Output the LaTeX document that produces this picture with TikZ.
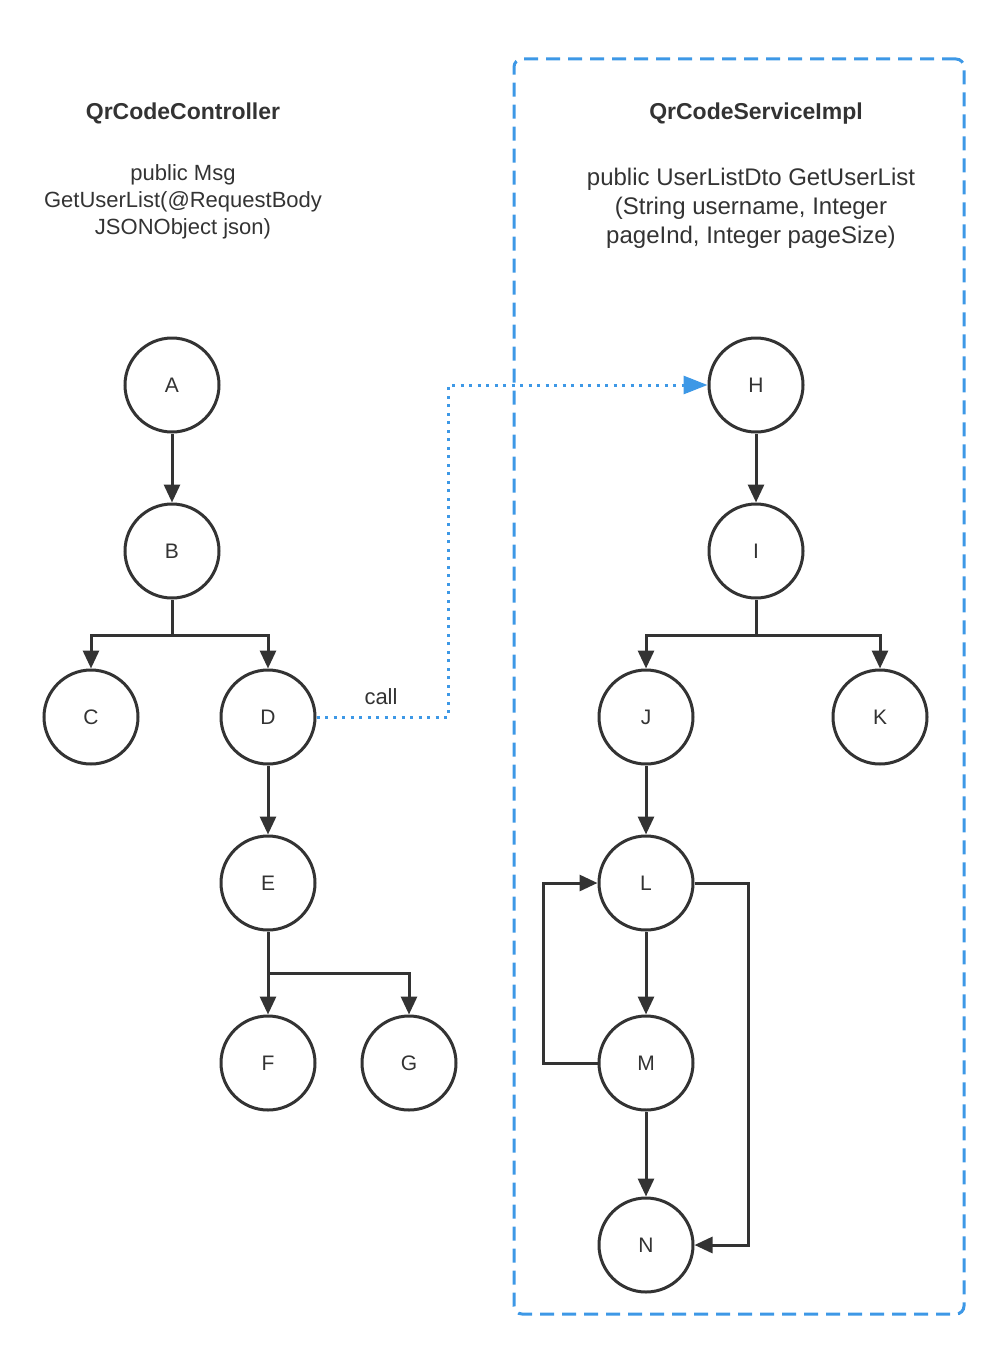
\documentclass[tikz,border=0pt]{standalone}
\usepackage{fontspec}
\setmainfont{Liberation Sans}
\usetikzlibrary{arrows.meta}
\definecolor{ink}{HTML}{333333}
\definecolor{accent}{HTML}{3D98E6}
\begin{document}
\begin{tikzpicture}[x=1pt,y=-1pt,
  state/.style={circle,draw=ink,line width=3pt,minimum size=94pt,inner sep=0pt,
    font=\fontsize{21}{24}\selectfont,text=ink},
  flow/.style={draw=ink,line width=3pt,line join=miter,-{Triangle[length=18pt,width=16pt]}},
  callflow/.style={draw=accent,line width=3pt,dash pattern=on 3pt off 5.5pt,
    -{Triangle[length=24pt,width=18pt]}},
  title/.style={font=\fontsize{23}{26}\selectfont\bfseries,text=ink},
  sig/.style={font=\fontsize{22}{27}\selectfont,text=ink,align=center},
  sigwide/.style={font=\fontsize{24}{29}\selectfont,text=ink,align=center},
  frame/.style={draw=accent,line width=3pt,dash pattern=on 14pt off 8pt,rounded corners=8pt}
]
\useasboundingbox (0,0) rectangle (998,1346);

% service frame
\node[frame,minimum width=450pt,minimum height=1255pt,inner sep=0pt] (svc) at (739,686.5) {};

% headings
\node[title] (ctrlT) at (183,113) {QrCodeController};
\node[sig] (ctrlS) at (183,201.5) {public Msg\\GetUserList(@RequestBody\\JSONObject json)};
\node[title] (svcT) at (756,114) {QrCodeServiceImpl};
\node[sigwide] (svcS) at (751,208) {public UserListDto GetUserList\\(String username, Integer\\pageInd, Integer pageSize)};

% controller nodes
\node[state] (A) at (172,385) {A};
\node[state] (B) at (172,551) {B};
\node[state] (C) at (91,717) {C};
\node[state] (D) at (268,717) {D};
\node[state] (E) at (268,883) {E};
\node[state] (F) at (268,1063) {F};
\node[state] (G) at (409,1063) {G};

% service nodes
\node[state] (H) at (756,385) {H};
\node[state] (I) at (756,551) {I};
\node[state] (J) at (646,717) {J};
\node[state] (K) at (880,717) {K};
\node[state] (L) at (646,883) {L};
\node[state] (M) at (646,1063) {M};
\node[state] (N) at (646,1245) {N};

% junction points
\coordinate (bj) at (172,635);
\coordinate (ej) at (268,973);
\coordinate (ij) at (756,635);

% controller edges
\draw[flow] (A) -- (B);
\draw[flow] (B.south) -- (bj) -| (C.north);
\draw[flow] (bj) -| (D.north);
\draw[flow] (D) -- (E);
\draw[flow] (E.south) -- (F.north);
\draw[flow] (ej) -| (G.north);

% service edges
\draw[flow] (H) -- (I);
\draw[flow] (I.south) -- (ij) -| (J.north);
\draw[flow] (ij) -| (K.north);
\draw[flow] (J) -- (L);
\draw[flow] (L) -- (M);
\draw[flow] (M) -- (N);
\draw[flow] (M.west) -- ++(-54,0) |- (L.west);
\draw[flow] (L.east) -- ++(54,0) |- (N.east);

% call link
\draw[callflow] (D.east) -- ++(132,0) |- (H.west);
\node[font=\fontsize{22}{24}\selectfont,text=ink] (callT) at (381,697) {call};
\end{tikzpicture}
\end{document}
